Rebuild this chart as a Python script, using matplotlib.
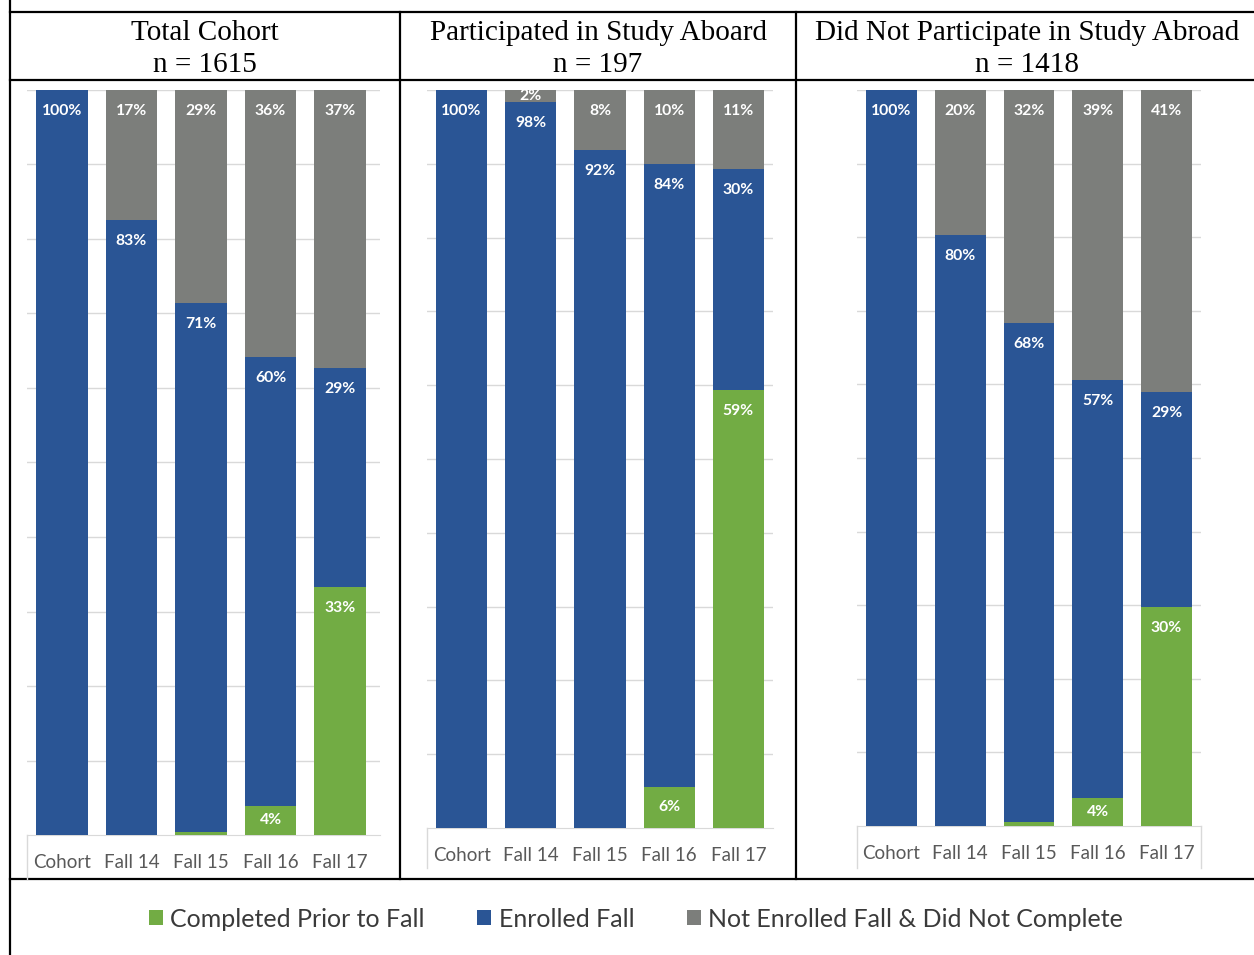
import matplotlib.pyplot as plt
from matplotlib.lines import Line2D
from matplotlib.patches import Patch

W, H = 1254, 955

categories = ["Cohort", "Fall 14", "Fall 15", "Fall 16", "Fall 17"]
panel_titles = ["Total Cohort", "Participated in Study Aboard", "Did Not Participate in Study Abroad"]
panel_n = [1615, 197, 1418]
series_names = ["Completed Prior to Fall", "Enrolled Fall", "Not Enrolled Fall & Did Not Complete"]

total_completed = [0, 0, 0.4, 3.9, 33.3]
total_enrolled = [100, 82.6, 71.0, 60.3, 29.4]
total_not = [0, 17.4, 28.6, 35.8, 37.3]

abroad_completed = [0, 0, 0, 5.6, 59.4]
abroad_enrolled = [100, 98.4, 91.9, 84.4, 29.9]
abroad_not = [0, 1.6, 8.1, 10.0, 10.7]

no_abroad_completed = [0, 0, 0.5, 3.8, 29.8]
no_abroad_enrolled = [100, 80.3, 67.8, 56.8, 29.2]
no_abroad_not = [0, 19.7, 31.7, 39.4, 41.0]

GREEN = "#72AC44"
BLUE = "#2A5595"
GRAY = "#7C7E7B"
GRID = "#D9D9D9"

plt.rcParams["font.family"] = ["Lato", "DejaVu Sans"]


def px_rect(x0, y0, x1, y1):
    return [x0 / W, 1 - y1 / H, (x1 - x0) / W, (y1 - y0) / H]


def fig_line(fig, x0, y0, x1, y1, color="black", lw=1.6):
    fig.add_artist(Line2D([x0 / W, x1 / W], [1 - y0 / H, 1 - y1 / H],
                          color=color, linewidth=lw, transform=fig.transFigure))


fig = plt.figure(figsize=(W / 100, H / 100), dpi=100)

# table frame around the three panels
fig_line(fig, 10, 0, 10, H)
fig_line(fig, 10, 12, W, 12)
fig_line(fig, 10, 80, W, 80)
fig_line(fig, 10, 879, W, 879)
fig_line(fig, 400, 12, 400, 879)
fig_line(fig, 796, 12, 796, 879)

# (stacks, plot box in px, bar span right edge in px, title centre x)
panels = [
    (total_completed, total_enrolled, total_not, (27, 90, 380, 835), 375, 205),
    (abroad_completed, abroad_enrolled, abroad_not, (427, 90, 773, 828), 773, 598),
    (no_abroad_completed, no_abroad_enrolled, no_abroad_not, (857, 90, 1201, 826), 1201, 1027),
]

for i, (comp, enr, notv, box, bar_right, title_x) in enumerate(panels):
    x0, y0, x1, y1 = box
    ax = fig.add_axes(px_rect(x0, y0, x1, y1))
    x = list(range(len(categories)))
    stacks = [comp, enr, notv]
    colors = [GREEN, BLUE, GRAY]
    bottom = [0.0] * len(categories)
    unit_px = (y1 - y0) / 100.0
    offset = 21 / unit_px
    for vals, col in zip(stacks, colors):
        ax.bar(x, vals, bottom=bottom, width=0.74, color=col, zorder=3)
        for xi, v, b in zip(x, vals, bottom):
            if v >= 1:
                top = b + v
                ax.text(xi, top - min(offset, v / 2), f"{v:.0f}%", ha="center",
                        va="center", color="white", fontsize=11.3,
                        fontweight="bold", zorder=4)
        bottom = [b + v for b, v in zip(bottom, vals)]

    slot = (bar_right - x0) / len(categories)
    ax.set_xlim(-0.5, -0.5 + (x1 - x0) / slot)
    ax.set_ylim(0, 100)
    ax.set_yticks(range(10, 101, 10))
    ax.yaxis.grid(True, color=GRID, linewidth=1, zorder=0)
    ax.tick_params(axis="y", left=False, labelleft=False)
    ax.tick_params(axis="x", bottom=False, pad=10, labelsize=13.5, labelcolor="#595959")
    ax.set_xticks(x)
    ax.set_xticklabels(categories)
    for side in ["top", "left", "right"]:
        ax.spines[side].set_visible(False)
    ax.spines["bottom"].set_color(GRID)
    ax.set_facecolor("none")

    # chart-area edges below the axis
    fig_line(fig, x0, y1, x0, 868 if i else 879, color=GRID, lw=1)
    if i == 2:
        fig_line(fig, x1, y1, x1, 868, color=GRID, lw=1)

    fig.text(title_x / W, 1 - 33 / H, panel_titles[i], ha="center", va="center",
             fontsize=21, family="Liberation Serif")
    fig.text(title_x / W, 1 - 65 / H, f"n = {panel_n[i]}", ha="center", va="center",
             fontsize=21, family="Liberation Serif")

handles = [Patch(facecolor=c, edgecolor="none") for c in [GREEN, BLUE, GRAY]]
fig.legend(handles, series_names, loc="center", bbox_to_anchor=(636 / W, 1 - 919 / H),
           ncol=3, frameon=False, fontsize=18, handlelength=0.55, handleheight=0.55,
           handletextpad=0.3, columnspacing=2.1, labelcolor="#3A3A3A")

fig.savefig("out.png", dpi=100)
